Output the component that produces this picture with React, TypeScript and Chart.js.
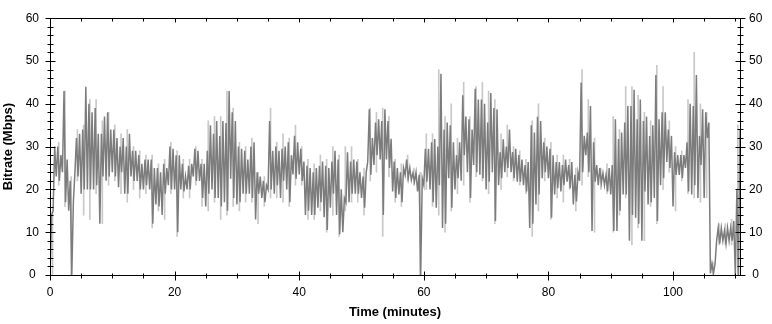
import React, { useEffect, useRef } from "react";
import { Chart, registerables } from "chart.js";

Chart.register(...registerables);

// Sampling: dark series is read in half-minute bins (low / high per bin),
// light (peak envelope) series in one-minute bins.
const binMinutes = 0.5;

const darkHi = [
  14, 30, 30, 28, 43, 27, 22, 17, 32, 33, 34, 44, 40, 38, 39, 33, 33, 37, 38, 34,
  34, 32, 30, 32, 30, 33, 29, 29, 28, 26, 27, 27, 27, 25, 25, 24, 26, 25, 30, 29.5,
  28, 28, 26, 23, 25.5, 26, 29.5, 29, 26, 26, 29, 35, 33, 36, 32.5, 36, 35.5, 43, 38, 36,
  30, 29.5, 29, 27, 30, 31, 24, 23, 22, 21, 36, 29, 30, 29, 29.5, 30, 31, 28, 32.5, 31,
  29.5, 26.5, 25.5, 25, 24, 25, 25.5, 26.5, 25.5, 25, 26.5, 29, 27, 20, 18, 28.7, 26.5, 27, 26.5, 24,
  23, 24, 38.7, 32, 35.6, 36.4, 36, 38.7, 36, 31.8, 26.5, 25, 24, 25, 27, 25, 23.8, 24, 23.4, 22.6,
  29.5, 29.5, 31, 31.8, 30, 47, 34, 35.6, 35, 31, 28, 31, 42, 37, 36.4, 34, 43.5, 41, 41, 40,
  35.6, 42.5, 39, 38.7, 28.7, 31.7, 30, 34, 28.7, 29.5, 28, 27, 25.7, 26.4, 35, 33.3, 37, 36, 31, 30,
  29.5, 28, 26.4, 26.4, 25.7, 27, 25.7, 26.4, 23.4, 24, 45, 32.5, 33.3, 39.5, 31, 25.7, 25, 23.8, 23.4, 25,
  25.7, 36.4, 31.8, 33.3, 35.6, 39.5, 39.5, 43.3, 36.4, 41, 36, 37, 32.5, 35, 46.7, 36.4, 38, 38, 34, 32.5,
  28.7, 28, 28, 28, 31, 40, 39.5, 46.7, 32.5, 38.7, 38, 35.6, 2.7, 2.7, 11, 11, 10.3, 11, 11, 12.6,
  20, 34,
];

const darkLo = [
  0, 15, 23, 22, 24, 17, 15, 0, 24, 23, 19, 20, 20, 20, 20, 21, 12, 23, 22, 23,
  24, 23, 20.5, 24, 19, 19, 23, 22, 22, 20, 20, 21, 20, 12, 16.5, 16, 14, 19, 21, 20,
  20, 10, 20, 19.5, 20, 20, 23, 22, 22, 18, 16, 19, 20, 18, 18, 16, 17, 15, 22.5, 18,
  16.5, 17, 19, 19, 19, 18, 13, 19, 18, 17, 20, 20, 19, 21, 18, 22, 20, 17, 23.5, 22.5,
  23.5, 22, 14, 15, 14, 14, 15.7, 17, 13.5, 10.5, 15.7, 19, 14, 9.5, 10, 17, 17, 19, 19, 19,
  18, 15.7, 26.5, 23.4, 25.7, 28, 27, 14, 27, 25, 19.5, 18, 18.8, 17, 23.4, 22.6, 22.2, 21.8, 19.5, 0,
  21, 21.8, 20, 17, 15.7, 21, 11, 12, 22.6, 15.7, 20, 22.6, 22, 28, 24, 18, 25.7, 24, 23.4, 22.6,
  20, 21.8, 24, 12.6, 21, 22.6, 24, 25, 24, 22.6, 21.8, 21.8, 21, 19.5, 11, 12, 16.5, 18.8, 22.6, 24,
  22.6, 13.4, 18.8, 20.3, 19.5, 21, 21.8, 20.3, 16.5, 17.2, 22, 24, 28, 24, 10.3, 21.8, 21, 21.5, 21, 19.5,
  18.8, 10.3, 10.3, 15, 18.8, 18.8, 8, 14, 13.4, 12, 8, 19.5, 16.5, 17, 18, 12.6, 21, 22.6, 26.4, 25,
  16, 23.4, 23.4, 22.6, 25, 19.5, 18.8, 21, 18, 25.7, 18, 32, 0.4, 0.4, 8, 7.3, 8, 7.3, 8, 8,
  0, 0,
];

const lightHi = [
  15, 31, 43, 23, 34, 35, 41, 41, 36, 38, 35, 33, 34, 30, 29, 28, 28, 26, 27, 31,
  29, 27, 27, 30, 27, 36, 37, 37, 43, 39, 31, 30, 32, 24, 23, 39, 31, 33, 32, 35,
  30, 27, 26, 28, 27, 30, 28, 30, 30, 27, 25, 39, 38, 39, 37, 27, 26, 28, 25, 24,
  33, 33, 48, 37, 40, 32, 45, 37, 44, 45, 43, 41, 33, 35, 30, 29, 27, 36, 40, 32,
  31, 28, 28, 27, 25, 48, 41, 32, 25, 26, 37, 34, 44, 44, 42, 38, 36, 49, 44, 36,
  30, 29, 41, 52, 40, 38, 3, 12, 12, 13, 35,
];

const lightLo = [
  0, 21, 16, 0, 22, 14, 13, 19, 12, 21, 22, 19, 17, 20, 18, 19, 11, 15, 13, 19,
  9, 18, 18, 21, 16, 15, 17, 13, 14, 16, 15, 17, 17, 12, 16, 18, 18, 17, 16, 21,
  21, 13, 13, 15, 10, 14, 9, 15, 17, 17, 14, 22, 24, 9, 23, 17, 16, 22, 21, 0,
  20, 16, 14, 10, 15, 19, 21, 17, 23, 22, 19, 12, 20, 23, 22, 21, 19, 9, 15, 22,
  13, 18, 17, 20, 15, 21, 23, 10, 20, 19, 10, 14, 18, 7, 11, 8, 16, 12, 20, 24,
  15, 22, 19, 18, 17, 18, 0, 7, 7, 7, 0,
];

const timeMax = 110.75;
const xTickStep = 20;
const xMinorStep = 5;
const yMax = 60;
const yTickStep = 10;
const yMinorStep = 2;

const xTitle = "Time (minutes)";
const yTitle = "Bitrate (Mbps)";

const tickFont = { family: "'Liberation Sans', Arial, sans-serif", size: 12 };
const titleFont = { family: "'Liberation Sans', Arial, sans-serif", size: 13, weight: "bold" as const };

function buildDark() {
  const pts: { x: number; y: number }[] = [];
  for (let i = 0; i < darkHi.length; i++) {
    const t = i * binMinutes;
    pts.push({ x: t, y: darkLo[i] });
    pts.push({ x: Math.min(t + binMinutes / 2, timeMax), y: darkHi[i] });
  }
  return pts;
}

function buildLight() {
  const pts: { x: number; y: [number, number] }[] = [];
  for (let m = 0; m < lightHi.length; m++) {
    pts.push({ x: Math.min(m + 0.4, timeMax), y: [lightLo[m], lightHi[m]] });
  }
  return pts;
}

const framePlugin = {
  id: "frameTicks",
  afterDraw(chart: any) {
    const { ctx, chartArea } = chart;
    const xs = chart.scales.x;
    const ys = chart.scales.y;
    const { left, right, top, bottom } = chartArea;
    ctx.save();
    ctx.strokeStyle = "#000";
    ctx.lineWidth = 1;
    ctx.beginPath();
    const L = Math.round(left) + 0.5;
    const R = Math.round(right) + 0.5;
    const T = Math.round(top) + 0.5;
    const B = Math.round(bottom) + 0.5;
    ctx.moveTo(L, T);
    ctx.lineTo(R, T);
    ctx.lineTo(R, B);
    ctx.lineTo(L, B);
    ctx.closePath();
    for (let v = 0; v <= timeMax + 1e-6; v += xMinorStep) {
      const px = Math.round(xs.getPixelForValue(v)) + 0.5;
      const major = v % xTickStep === 0;
      ctx.moveTo(px, B - (major ? 4 : 2));
      ctx.lineTo(px, B + (major ? 5 : 3));
      ctx.moveTo(px, T);
      ctx.lineTo(px, T + (major ? 4 : 3));
    }
    for (let v = 0; v <= yMax + 1e-6; v += yMinorStep) {
      const py = Math.round(ys.getPixelForValue(v)) + 0.5;
      const major = v % yTickStep === 0;
      const a = major ? 5 : 3;
      ctx.moveTo(L - a, py);
      ctx.lineTo(L + a, py);
      ctx.moveTo(R - a, py);
      ctx.lineTo(R + a, py);
    }
    ctx.stroke();
    ctx.restore();
  },
};

export default function App() {
  const ref = useRef<HTMLCanvasElement | null>(null);
  useEffect(() => {
    document.body.style.margin = "0";
    const canvas = ref.current;
    if (!canvas) return;
    const chart = new Chart(canvas, {
      type: "line",
      data: {
        datasets: [
          {
            type: "bar",
            data: buildLight(),
            backgroundColor: "#c8c8c8",
            borderWidth: 0,
            barThickness: 1,
            order: 2,
          },
          {
            type: "line",
            data: buildDark(),
            parsing: false,
            borderColor: "#7c7c7c",
            borderWidth: 1.5,
            pointRadius: 0,
            tension: 0,
            order: 1,
          },
        ],
      } as any,
      options: {
        animation: false,
        responsive: false,
        normalized: true,
        events: [],
        layout: { padding: { top: 14, left: 0, right: 0, bottom: 0 } },
        plugins: { legend: { display: false }, tooltip: { enabled: false } },
        scales: {
          x: {
            type: "linear",
            position: "bottom",
            min: 0,
            max: timeMax,
            offset: false,
            grid: { display: false, drawTicks: false, offset: false },
            border: { display: false },
            ticks: {
              stepSize: xTickStep,
              includeBounds: false,
              autoSkip: false,
              maxRotation: 0,
              padding: 10,
              color: "#000",
              font: tickFont,
            },
            title: {
              display: true,
              text: xTitle,
              color: "#000",
              font: titleFont,
              padding: { top: 0, bottom: 4 },
            },
            afterFit: (s: any) => {
              s.height = 49;
            },
          },
          y: {
            type: "linear",
            position: "left",
            min: 0,
            max: yMax,
            grid: { display: false, drawTicks: false },
            border: { display: false },
            ticks: {
              stepSize: yTickStep,
              crossAlign: "center",
              padding: 11,
              color: "#000",
              font: tickFont,
            },
            title: {
              display: true,
              text: yTitle,
              color: "#000",
              font: titleFont,
              padding: { top: 1, bottom: 0 },
            },
            afterFit: (s: any) => {
              s.width = 50;
            },
          },
          y2: {
            type: "linear",
            position: "right",
            min: 0,
            max: yMax,
            grid: { display: false, drawTicks: false },
            border: { display: false },
            ticks: {
              stepSize: yTickStep,
              crossAlign: "center",
              padding: 9,
              color: "#000",
              font: tickFont,
            },
            afterFit: (s: any) => {
              s.width = 32;
            },
          },
        },
      } as any,
      plugins: [framePlugin],
    });
    return () => chart.destroy();
  }, []);
  return (
    <div style={{ width: 772, height: 324, background: "#fff" }}>
      <canvas ref={ref} width={772} height={324} style={{ display: "block" }} />
    </div>
  );
}
